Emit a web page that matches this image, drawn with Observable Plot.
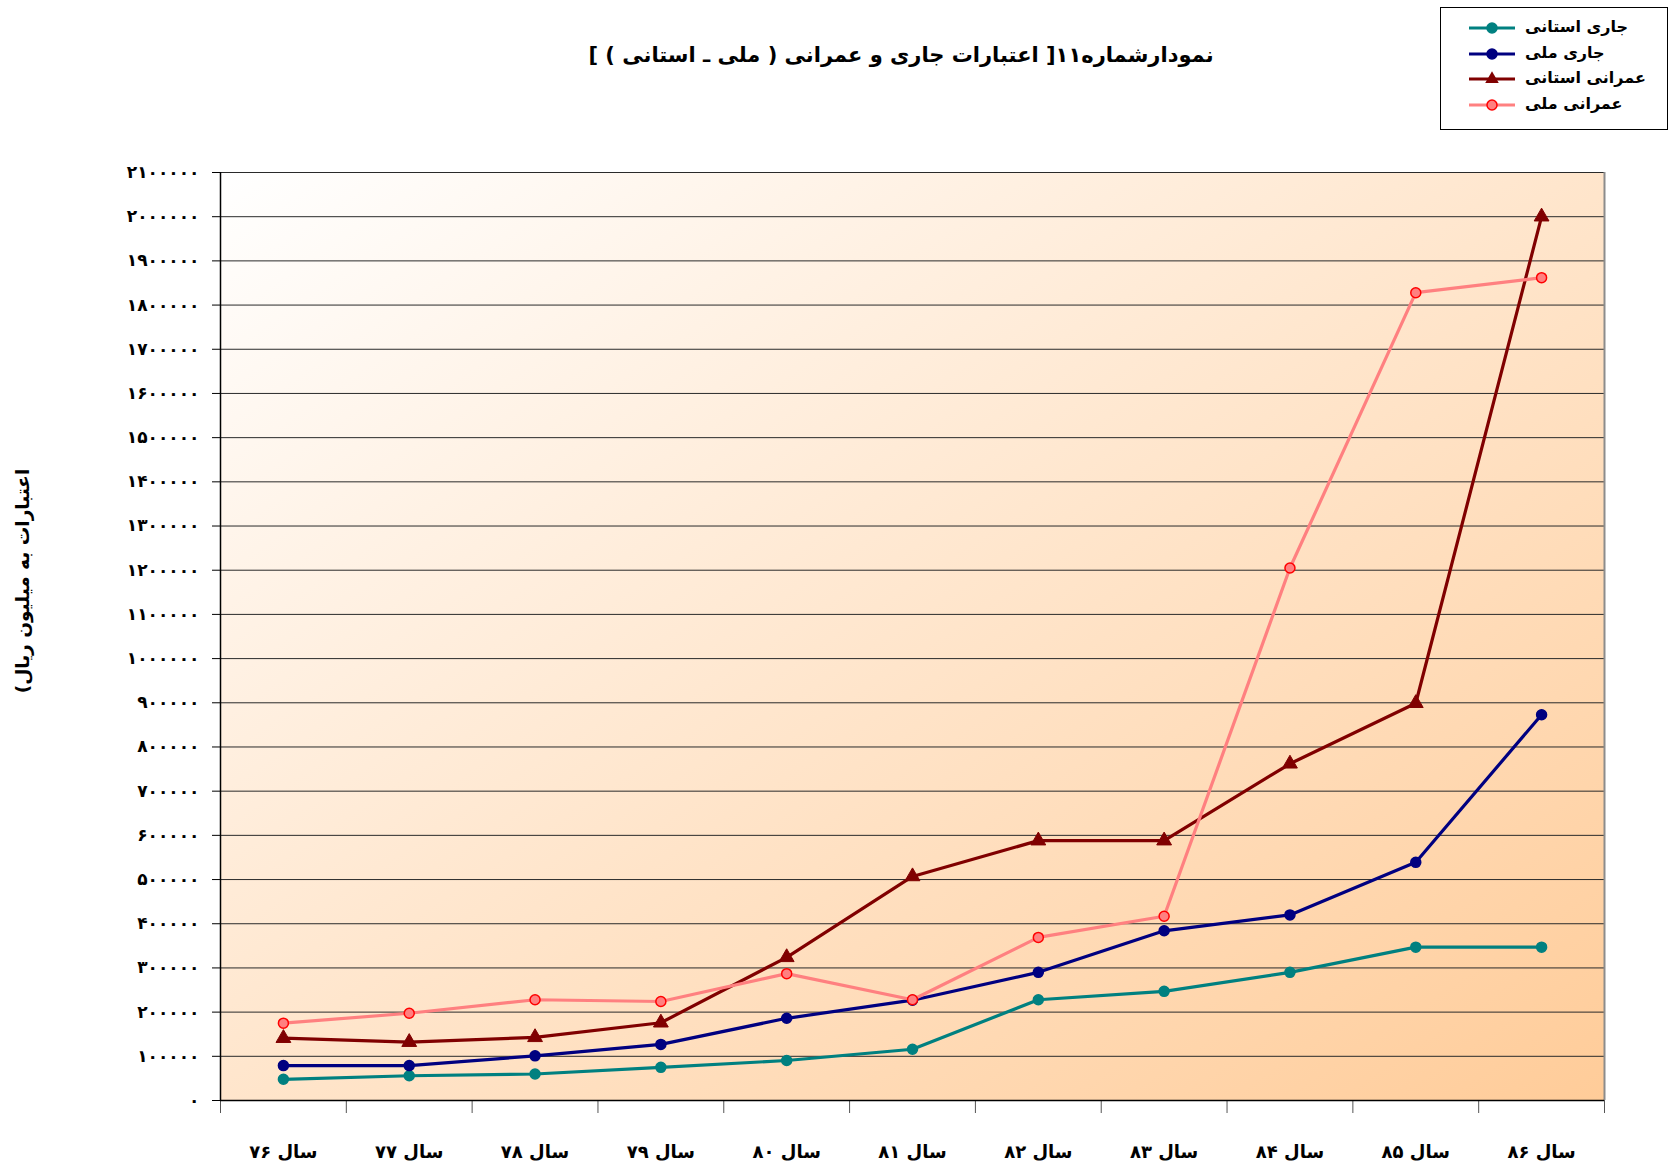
<!DOCTYPE html>
<html>
<head>
<meta charset="utf-8">
<script src="https://cdn.jsdelivr.net/npm/d3@7"></script>
<script src="https://cdn.jsdelivr.net/npm/@observablehq/plot@0.6"></script>
<style>
  html, body { margin: 0; padding: 0; background: #fff; }
  #wrap { position: relative; width: 1672px; height: 1170px; font-family: "DejaVu Sans", sans-serif; color: #000; }
  #header { position: relative; width: 1672px; height: 140px; }
  #title { position: absolute; left: 901px; top: 55px; transform: translate(-50%, -50%); white-space: nowrap; font-weight: bold; font-size: 21px; }
  #legend { position: absolute; left: 1440px; top: 7px; width: 228px; height: 123px; border: 1px solid #000; background: #fff; box-sizing: border-box; }
  .lrow { position: absolute; left: 0; height: 24px; width: 226px; }
  .lrow svg { position: absolute; left: 28px; top: 0; }
  .lrow span { position: absolute; left: 84px; top: 1px; font-weight: bold; font-size: 16px; white-space: nowrap; }
  #ytitle { position: absolute; left: 22px; top: 581px; transform: translate(-50%, -50%) rotate(-90deg); white-space: nowrap; font-weight: bold; font-size: 18.5px; }
  .yax text { letter-spacing: 2.6px; }
</style>
</head>
<body>
<div id="wrap">
  <div id="header">
    <div id="title" dir="rtl">نمودارشماره۱۱[ اعتبارات جاری و عمرانی ( ملی ـ استانی ) ]</div>
    <div id="legend"></div>
  </div>
  <div id="ytitle" dir="rtl">اعتبارات به میلیون ریال)</div>
  <div id="chart"></div>
</div>
<script>
// ---- data ----
const years = ["سال ۷۶", "سال ۷۷", "سال ۷۸", "سال ۷۹", "سال ۸۰", "سال ۸۱", "سال ۸۲", "سال ۸۳", "سال ۸۴", "سال ۸۵", "سال ۸۶"];
const seriesNames = ["جاری استانی", "جاری ملی", "عمرانی استانی", "عمرانی ملی"];
const jariOstani   = [48000, 56000, 60000, 75000, 90500, 116000, 228000, 247000, 290000, 347000, 347000];
const jariMelli    = [79000, 79000, 101000, 127000, 186000, 227000, 290000, 384000, 420000, 539000, 873000];
const omraniOstani = [141000, 132000, 143000, 176000, 324000, 507000, 588000, 588000, 762000, 899000, 2000000];
const omraniMelli  = [175000, 197500, 228000, 224000, 287000, 228000, 369000, 417000, 1205000, 1828000, 1862000];
const yTicks = d3.range(0, 2100001, 100000);

// ---- styles ----
const styles = [
  {stroke: "#008080", fill: "#008080", markStroke: "#008080", symbol: "circle", r: 5},
  {stroke: "#000080", fill: "#000080", markStroke: "#000080", symbol: "circle", r: 5},
  {stroke: "#800000", fill: "#800000", markStroke: "#800000", symbol: "triangle", r: 5.5},
  {stroke: "#FF8080", fill: "#FF8080", markStroke: "#FF0000", symbol: "circle", r: 5}
];
const allSeries = [jariOstani, jariMelli, omraniOstani, omraniMelli];

const persian = s => String(s).replace(/\d/g, d => "۰۱۲۳۴۵۶۷۸۹"[d]);

const seriesMarks = [];
allSeries.forEach((vals, si) => {
  const data = vals.map((v, i) => ({i: i + 0.5, v}));
  const st = styles[si];
  seriesMarks.push(Plot.line(data, {x: "i", y: "v", stroke: st.stroke, strokeWidth: 3.2}));
  if (st.symbol === "triangle") {
    seriesMarks.push(Plot.dot(data, {x: "i", y: "v", symbol: "triangle", r: st.r, fill: st.fill, stroke: st.markStroke, strokeWidth: 1}));
  } else {
    seriesMarks.push(Plot.dot(data, {x: "i", y: "v", r: st.r, fill: st.fill, stroke: st.markStroke, strokeWidth: 1.5}));
  }
});

const chart = Plot.plot({
  width: 1672,
  height: 1030,
  marginLeft: 220,
  marginRight: 68,
  marginTop: 32,
  marginBottom: 70,
  style: {fontFamily: "DejaVu Sans, sans-serif", color: "#000", background: "transparent"},
  x: {domain: [0, years.length]},
  y: {domain: [0, 2100000]},
  marks: [
    Plot.frame({fill: "url(#bgGrad)", stroke: null}),
    Plot.gridY(yTicks.slice(1), {stroke: "#2a2a2a", strokeOpacity: 1, strokeWidth: 1}),
    Plot.ruleX([years.length], {stroke: "#8c8c8c", strokeWidth: 2}),
    Plot.axisY(yTicks, {tickFormat: d => persian(d), tickSize: 8, tickPadding: 13, fontSize: 17, fontWeight: "bold", label: null, stroke: "#000", className: "yax"}),
    Plot.axisX(d3.range(years.length + 1), {tickFormat: () => "", tickSize: 13, label: null, stroke: "#555"}),
    Plot.axisX(d3.range(years.length).map(i => i + 0.5), {tickFormat: d => years[Math.floor(d)], tickSize: 0, tickPadding: 45, fontSize: 18, fontWeight: "bold", label: null}),
    Plot.ruleX([0], {stroke: "#000", strokeWidth: 1.5}),
    Plot.ruleY([0], {stroke: "#000", strokeWidth: 1.5}),
    ...seriesMarks
  ]
});

// gradient background
const defs = d3.select(chart).insert("defs", ":first-child");
const grad = defs.append("linearGradient").attr("id", "bgGrad").attr("x1", 0).attr("y1", 0).attr("x2", 1).attr("y2", 1);
grad.append("stop").attr("offset", "0%").attr("stop-color", "#FFFFFF");
grad.append("stop").attr("offset", "100%").attr("stop-color", "#FFCC99");

document.getElementById("chart").appendChild(chart);

// legend
const legend = d3.select("#legend");
seriesNames.forEach((name, si) => {
  const st = styles[si];
  const row = legend.append("div").attr("class", "lrow").style("top", (8 + si * 25.5) + "px");
  const svg = row.append("svg").attr("width", 48).attr("height", 24);
  svg.append("line").attr("x1", 0).attr("x2", 46).attr("y1", 12).attr("y2", 12).attr("stroke", st.stroke).attr("stroke-width", 3);
  if (st.symbol === "triangle") {
    svg.append("path").attr("d", d3.symbol(d3.symbolTriangle, 80)()).attr("transform", "translate(23,12)").attr("fill", st.fill);
  } else {
    svg.append("circle").attr("cx", 23).attr("cy", 12).attr("r", 5).attr("fill", st.fill).attr("stroke", st.markStroke).attr("stroke-width", 1.5);
  }
  row.append("span").attr("dir", "rtl").text(name);
});
</script>
</body>
</html>
